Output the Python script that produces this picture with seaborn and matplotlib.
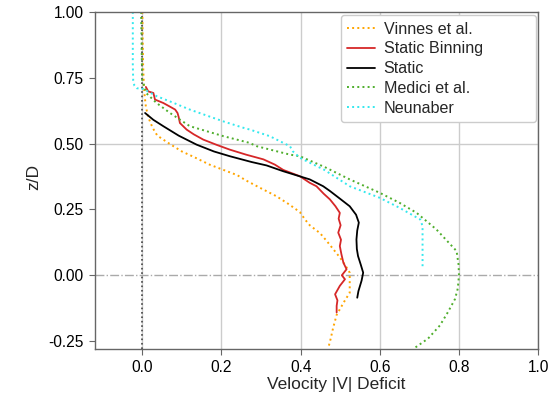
import matplotlib
matplotlib.use("Agg")
import matplotlib.pyplot as plt
import seaborn as sns
import pandas as pd

# Wake deficit profiles: velocity deficit against height z/D
vinnes_z = [1.00, 0.90, 0.80, 0.72, 0.68, 0.64, 0.60, 0.56, 0.53, 0.50, 0.47, 0.45,
            0.42, 0.40, 0.38, 0.36, 0.33, 0.30, 0.27, 0.24, 0.21, 0.19, 0.16, 0.13,
            0.10, 0.07, 0.04, 0.01, -0.03, -0.066, -0.10, -0.15, -0.20, -0.24, -0.275]
vinnes_v = [0.000, 0.001, 0.002, 0.004, 0.006, 0.009, 0.015, 0.026, 0.038, 0.068, 0.100, 0.129,
            0.170, 0.205, 0.240, 0.262, 0.300, 0.339, 0.370, 0.398, 0.412, 0.423, 0.449, 0.466,
            0.482, 0.498, 0.512, 0.524, 0.524, 0.524, 0.510, 0.491, 0.482, 0.476, 0.470]

binning_z = [0.715, 0.698, 0.692, 0.680, 0.667, 0.654, 0.640, 0.629, 0.616, 0.600, 0.578,
             0.553, 0.535, 0.515, 0.495, 0.477, 0.458, 0.440, 0.420, 0.400, 0.376, 0.351,
             0.338, 0.310, 0.288, 0.262, 0.237, 0.215, 0.190, 0.162, 0.135, 0.111, 0.080,
             0.048, 0.023, 0.000, -0.015, -0.040, -0.072, -0.095, -0.116, -0.141]
binning_v = [0.009, 0.015, 0.028, 0.030, 0.032, 0.053, 0.070, 0.083, 0.089, 0.092, 0.095,
             0.112, 0.130, 0.154, 0.188, 0.221, 0.262, 0.306, 0.335, 0.356, 0.398, 0.423,
             0.440, 0.458, 0.474, 0.488, 0.499, 0.496, 0.501, 0.495, 0.502, 0.499, 0.503,
             0.508, 0.516, 0.504, 0.512, 0.499, 0.487, 0.493, 0.491, 0.491]

static_z = [0.616, 0.590, 0.566, 0.530, 0.496, 0.470, 0.452, 0.430, 0.417, 0.395,
            0.364, 0.338, 0.320, 0.290, 0.262, 0.230, 0.200, 0.170, 0.136, 0.100,
            0.073, 0.040, 0.010, -0.020, -0.040, -0.060, -0.085]
static_v = [0.007, 0.028, 0.053, 0.092, 0.137, 0.181, 0.221, 0.276, 0.314, 0.356,
            0.423, 0.457, 0.474, 0.500, 0.524, 0.540, 0.547, 0.543, 0.541, 0.542,
            0.545, 0.552, 0.558, 0.554, 0.550, 0.546, 0.543]

medici_z = [1.00, 0.90, 0.80, 0.74, 0.69, 0.654, 0.616, 0.566, 0.528, 0.503, 0.490,
            0.458, 0.452, 0.410, 0.364, 0.313, 0.275, 0.237, 0.174, 0.092, 0.040,
            0.000, -0.050, -0.090, -0.140, -0.190, -0.240, -0.280]
medici_v = [-0.003, -0.002, -0.001, 0.000, 0.011, 0.036, 0.070, 0.120, 0.205, 0.270, 0.289,
            0.373, 0.398, 0.462, 0.524, 0.600, 0.650, 0.693, 0.743, 0.794, 0.799,
            0.800, 0.797, 0.790, 0.772, 0.752, 0.722, 0.684]

neunaber_z = [1.00, 0.90, 0.80, 0.74, 0.72, 0.710, 0.707, 0.680, 0.655, 0.629, 0.584,
              0.560, 0.553, 0.528, 0.490, 0.471, 0.446, 0.400, 0.338, 0.294, 0.256,
              0.212, 0.187, 0.120, 0.060, 0.023]
neunaber_v = [-0.024, -0.024, -0.024, -0.023, -0.020, -0.014, 0.003, 0.036, 0.078, 0.120, 0.205,
              0.255, 0.272, 0.322, 0.373, 0.380, 0.398, 0.460, 0.524, 0.600, 0.650,
              0.702, 0.708, 0.708, 0.708, 0.708]

labels = ["Vinnes et al.", "Static Binning", "Static", "Medici et al.", "Neunaber"]

sns.set_theme(style="white")
plt.rcParams["font.family"] = ["Liberation Sans", "DejaVu Sans"]

fig = plt.figure(figsize=(5.48, 3.94), dpi=100)
ax = fig.add_axes([0.173, 0.114, 0.809, 0.856])

# reference lines: hub height and zero deficit
ax.axhline(0.0, color="#aaaaaa", lw=1.0, ls="-.", zorder=1)
ax.axvline(0.0, color="#444444", lw=1.2, ls=":", zorder=1)
ax.axhline(0.5, color="#cccccc", lw=1.0, zorder=0)

series = [
    (vinnes_v, vinnes_z, "orange", ":", 1.4),
    (binning_v, binning_z, "#d62728", "-", 1.3),
    (static_v, static_z, "black", "-", 1.3),
    (medici_v, medici_z, "#4fae2c", ":", 1.4),
    (neunaber_v, neunaber_z, "#33e8ee", ":", 1.4),
]
for (v, z, col, ls, lw), lab in zip(series, labels):
    df = pd.DataFrame({"deficit": v, "z": z})
    sns.lineplot(data=df, x="deficit", y="z", sort=False, estimator=None,
                 color=col, linestyle=ls, lw=lw, label=lab, ax=ax)

ax.set_xlim(-0.12, 1.0)
ax.set_ylim(-0.28, 1.0)
ax.set_xticks([0.0, 0.2, 0.4, 0.6, 0.8, 1.0])
ax.set_yticks([-0.25, 0.0, 0.25, 0.5, 0.75, 1.0])
ax.set_yticklabels(["-0.25", "0.00", "0.25", "0.50", "0.75", "1.00"])
ax.xaxis.grid(True, color="#cccccc", lw=1.0)
ax.set_axisbelow(True)

for sp in ax.spines.values():
    sp.set_color("#666666")
    sp.set_linewidth(1.0)
ax.tick_params(axis="both", which="major", direction="out", length=4.5, width=0.8,
               color="#666666", labelsize=11.2, labelcolor="black", left=True,
               bottom=True, pad=3.5)

ax.set_xlabel("Velocity |V| Deficit", fontsize=12.5, labelpad=1.5)
ax.xaxis.label.set_x(0.544)
ax.set_ylabel("z/D", fontsize=12.5, labelpad=5)
ax.yaxis.label.set_y(0.51)

ax.legend(loc="upper right", bbox_to_anchor=(0.555, 0.67, 0.44, 0.32), mode="expand",
          fontsize=11.6, frameon=True, fancybox=True, edgecolor="#cccccc",
          framealpha=1.0, borderpad=0.4, labelspacing=0.3, handlelength=1.75,
          handletextpad=0.5, borderaxespad=0.0)

fig.savefig("out.png", dpi=100)
